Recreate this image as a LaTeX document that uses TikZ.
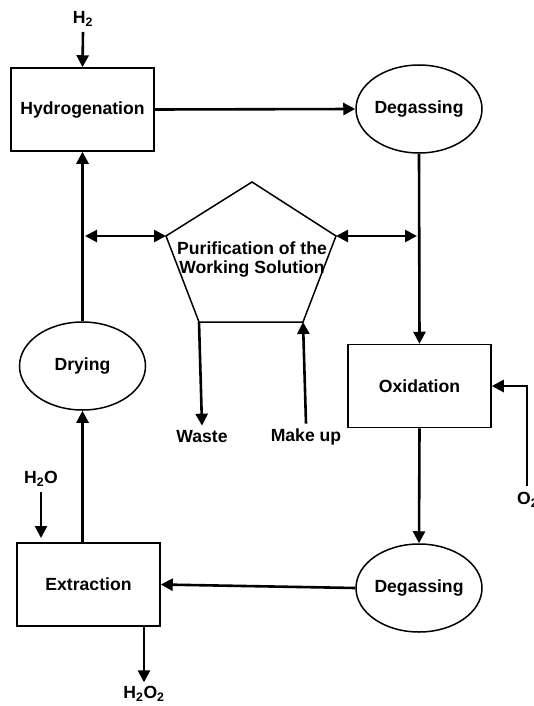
\documentclass[tikz,border=0pt]{standalone}
\usepackage{fontspec}
\setmainfont{Liberation Sans}
\usetikzlibrary{arrows.meta,shapes.geometric}
\begin{document}
\begin{tikzpicture}[x=1pt,y=-1pt,
  font=\bfseries\fontsize{17.6}{19}\selectfont,
  box/.style={draw, line width=1.5pt, minimum width=143pt, minimum height=83pt, inner sep=0pt},
  oval/.style={draw, ellipse, line width=1.5pt, minimum width=126pt, minimum height=88pt, inner sep=0pt},
  flow/.style={line width=2.6pt, -{Triangle[length=12pt,width=12pt]}},
  both/.style={line width=2.6pt, {Triangle[length=12pt,width=12pt]}-{Triangle[length=12pt,width=12pt]}},
  lbl/.style={inner sep=1pt}]
\useasboundingbox (0,0) rectangle (533,706);
% main process nodes
\node[box]  (hyd)  at (82.5,109.5) {Hydrogenation};
\node[oval] (deg1) at (419,109) {Degassing};
\node[box]  (oxi)  at (419.5,386) {Oxidation};
\node[oval] (deg2) at (419,588) {Degassing};
\node[box]  (ext)  at (88.5,584.5) {Extraction};
\node[oval] (dry)  at (82.5,366) {Drying};
% pentagon
\coordinate (pA)  at (252,182);
\coordinate (pR)  at (336,236);
\coordinate (pBR) at (303,322);
\coordinate (pBL) at (199,322);
\coordinate (pL)  at (166,236);
\draw[line width=1.5pt] (pA) -- (pR) -- (pBR) -- (pBL) -- (pL) -- cycle;
\node[align=center, inner sep=0pt] (pur) at (252,259) {Purification of the\\Working Solution};
% labels
\node[lbl] (h2)   at (83,19) {H\textsubscript{2}};
\node[lbl] (h2o)  at (41,479) {H\textsubscript{2}O};
\node[lbl] (h2o2) at (144,694) {H\textsubscript{2}O\textsubscript{2}};
\node[lbl, anchor=west] (o2) at (516,500) {O\textsubscript{2}};
\node[lbl] (waste) at (202,437) {Waste};
\node[lbl] (make)  at (306,437) {Make up};
% helper coordinates
\coordinate (h2s)  at (83,32);
\coordinate (h2oS) at (41,492);
\coordinate (h2oE) at (41,538);
\coordinate (o2s)  at (527,486);
\coordinate (jl)   at (85,236);
\coordinate (jr)   at (417,236);
% connectors
\draw[flow] (h2s) -- (hyd.north);
\draw[flow] (hyd.east) -- (deg1.west);
\draw[flow] (deg1.south) -- (oxi.north);
\draw[flow] (oxi.south) -- (deg2.north);
\draw[flow] (deg2.west) -- (ext.east);
\draw[flow] (dry.south |- ext.north) -- (dry.south);
\draw[flow] (dry.north) -- (hyd.south);
\draw[flow] (h2oS) -- (h2oE);
\draw[flow] (h2o2 |- ext.south) -- ([yshift=3pt]h2o2.north);
\draw[flow] (o2s) |- (oxi.east);
\draw[both] (jl) -- (pL);
\draw[both] (pR) -- (jr);
\draw[flow] (pBL) -- ([yshift=4pt]waste.north);
\draw[flow] ([yshift=4pt]make.north) -- (pBR);
\end{tikzpicture}
\end{document}
